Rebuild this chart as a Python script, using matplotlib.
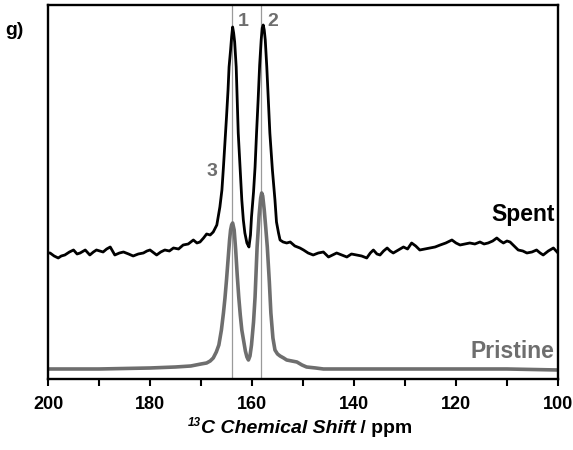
#!/usr/bin/env python

import matplotlib
matplotlib.use('Agg')
import matplotlib.pyplot as plt
from matplotlib.ticker import MultipleLocator

plt.rcParams['font.family'] = ['Liberation Sans', 'DejaVu Sans']

# Spent sample (ppm, intensity in arbitrary units)
spent_ppm = [200.0, 199.6, 198.8, 198.0, 197.4, 196.7, 195.8, 195.0, 194.3, 193.7,
             192.7, 191.8, 191.1, 190.5, 189.2, 188.5, 187.8, 186.9, 186.0, 185.2,
             184.2, 183.3, 182.3, 181.3, 180.6, 180.0, 178.7, 177.9, 177.1, 176.2,
             175.4, 174.4, 173.5, 172.5, 171.5, 170.8, 170.2, 169.5, 168.9, 168.2,
             167.6, 166.9, 166.3, 165.9, 165.6, 165.3, 165.0, 164.7, 164.5, 164.2,
             164.0, 163.8, 163.6, 163.4, 163.1, 162.9, 162.7, 162.3, 162.0, 161.7,
             161.4, 161.0, 160.6, 160.3, 160.1, 159.7, 159.4, 159.1, 158.8, 158.5,
             158.2, 158.0, 157.8, 157.6, 157.4, 157.1, 156.8, 156.5, 156.0, 155.5,
             155.2, 154.8, 154.5, 153.9, 153.2, 152.5, 151.6, 150.6, 149.9, 149.0,
             148.0, 147.0, 146.0, 145.0, 144.2, 143.4, 142.4, 141.4, 140.5, 139.5,
             138.5, 137.5, 136.8, 136.2, 135.5, 134.9, 134.2, 133.5, 132.9, 132.3,
             131.3, 130.3, 129.5, 128.7, 127.9, 127.1, 126.1, 125.1, 124.1, 123.1,
             122.0, 120.8, 120.0, 119.2, 118.2, 117.3, 116.3, 115.3, 114.5, 113.7,
             112.8, 112.0, 111.3, 110.7, 110.0, 109.4, 108.6, 107.8, 106.9, 106.1,
             105.1, 104.2, 103.5, 102.9, 101.9, 100.9, 100.0]
spent_int = [127, 127, 124, 122, 124, 125, 128, 130, 126, 127,
             130, 125, 128, 130, 128, 131, 133, 125, 127, 128,
             126, 124, 126, 127, 129, 130, 125, 128, 130, 129,
             132, 131, 135, 136, 140, 137, 138, 142, 146, 145,
             148, 155, 173, 190, 213, 238, 263, 290, 313, 330,
             343, 353, 347, 338, 313, 280, 247, 208, 180, 160,
             147, 137, 133, 145, 163, 188, 213, 248, 280, 315,
             340, 352, 355, 350, 340, 313, 280, 247, 210, 180,
             158, 147, 140, 138, 137, 138, 134, 132, 130, 127,
             125, 127, 128, 123, 125, 127, 125, 123, 126, 125,
             124, 122, 127, 130, 126, 125, 129, 132, 129, 127,
             130, 133, 131, 137, 134, 130, 131, 132, 133, 135,
             137, 140, 137, 135, 136, 137, 136, 138, 136, 137,
             139, 142, 139, 137, 139, 138, 134, 130, 129, 127,
             128, 130, 127, 125, 129, 132, 127]

# Pristine sample
pristine_ppm = [200.0, 190.0, 180.0, 175.0, 172.0, 170.0, 168.9, 168.2, 167.6, 167.0,
                166.5, 166.0, 165.6, 165.3, 165.0, 164.7, 164.4, 164.2, 164.0, 163.8,
                163.5, 163.2, 162.9, 162.6, 162.3, 162.0, 161.6, 161.3, 161.0, 160.7,
                160.4, 160.1, 159.7, 159.4, 159.0, 158.6, 158.3, 158.1, 157.9, 157.6,
                157.3, 157.0, 156.6, 156.3, 155.9, 155.5, 155.0, 154.5, 153.8, 153.2,
                152.2, 151.2, 150.2, 149.3, 147.5, 146.0, 140.0, 130.0, 120.0, 110.0,
                100.0]
pristine_int = [11, 11, 12, 13, 14, 16, 17, 19, 22, 28,
                35, 50, 67, 82, 100, 120, 140, 150, 155, 157,
                150, 130, 105, 83, 65, 50, 38, 29, 23, 20,
                24, 35, 58, 83, 133, 165, 182, 187, 184, 170,
                152, 133, 98, 67, 42, 30, 26, 24, 22, 20,
                19, 18, 15, 13, 12, 11, 11, 11, 11, 11,
                10]

peak_lines = [164.0, 158.3]
peak_labels = ['1', '2', '3']

GREY = '#6e6e6e'

fig = plt.figure(figsize=(5.73, 4.5), dpi=100)
ax = fig.add_axes([0.0838, 0.1578, 0.89, 0.8311])

for p in peak_lines:
    ax.axvline(p, color='#9a9a9a', lw=0.9, zorder=1)

ax.plot(pristine_ppm, pristine_int, color=GREY, lw=2.6, zorder=2)
ax.plot(spent_ppm, spent_int, color='black', lw=2.0, zorder=3)

ax.set_xlim(200, 100)
ax.set_ylim(1, 375)
ax.set_yticks([])
ax.xaxis.set_major_locator(MultipleLocator(20))
ax.xaxis.set_minor_locator(MultipleLocator(10))
ax.tick_params(axis='x', which='both', direction='out', width=1.5, length=5,
               labelsize=13, pad=7)
for lab in ax.get_xticklabels():
    lab.set_fontweight('bold')
for s in ax.spines.values():
    s.set_linewidth(1.7)

ax.text(161.8, 358, peak_labels[0], color=GREY, fontsize=14, fontweight='bold',
        ha='center', va='center')
ax.text(155.9, 358, peak_labels[1], color=GREY, fontsize=14, fontweight='bold',
        ha='center', va='center')
ax.text(167.8, 208, peak_labels[2], color=GREY, fontsize=14, fontweight='bold',
        ha='center', va='center')
ax.text(100.7, 165, 'Spent', color='black', fontsize=16.5, fontweight='bold',
        ha='right', va='center')
ax.text(100.7, 28, 'Pristine', color=GREY, fontsize=16.5, fontweight='bold',
        ha='right', va='center')

fig.text(0.009, 0.933, 'g)', fontsize=14, fontweight='bold', va='center', ha='left')

# x label: small superscript, bold italic name, upright unit
xl = fig.text(0.350, 0.028, 'C Chemical Shift', fontsize=14,
              fontweight='bold', style='italic', ha='left', va='bottom')
ax.annotate('13', xy=(0, 1), xycoords=xl, xytext=(0, 2.5), textcoords='offset points',
            fontsize=8.5, fontweight='bold', style='italic', ha='right', va='top')
ax.annotate(' / ppm', xy=(1, 0), xycoords=xl, fontsize=14, fontweight='bold',
            ha='left', va='bottom')

fig.savefig('out.png', dpi=100)
